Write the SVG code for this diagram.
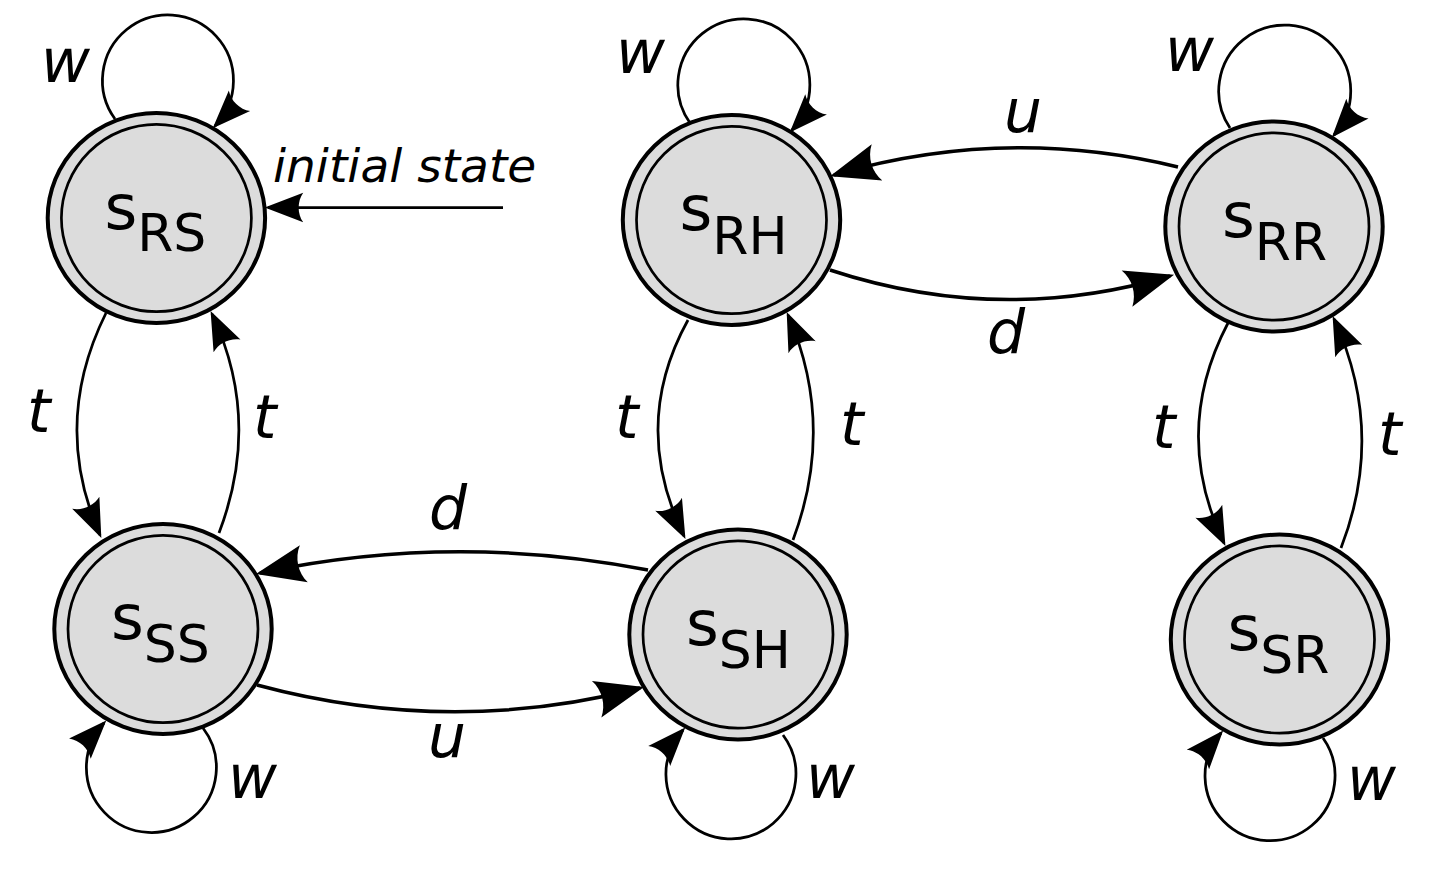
<svg xmlns="http://www.w3.org/2000/svg" width="1453" height="870" viewBox="0 0 1453 870">
<style>
.bg{fill:#ffffff}
.outer{fill:#dcdcdc;stroke:#000;stroke-width:4}
.inner{fill:#dcdcdc;stroke:#000;stroke-width:2.7}
.nl{font-family:"DejaVu Sans","Liberation Sans",sans-serif;font-size:63px;fill:#000}
.sub{font-size:52px}
.lbl{font-family:"DejaVu Sans","Liberation Sans",sans-serif;font-style:italic;font-size:60px;fill:#000}
.init{font-family:"DejaVu Sans","Liberation Sans",sans-serif;font-style:italic;font-size:47px;fill:#000}
.e{fill:none;stroke:#000;stroke-width:2.75;marker-end:url(#arr)}
.eb{fill:none;stroke:#000;stroke-width:3.5;marker-end:url(#arr)}
</style>
<defs>
<marker id="arr" viewBox="-16 -7 18 14" markerWidth="18" markerHeight="14" refX="-1.2" refY="0" orient="auto" markerUnits="strokeWidth" overflow="visible">
<path d="M0,0 L-14,-5.4 C-11.8,-2.2 -11.8,2.2 -14,5.4 Z" fill="#000"/>
</marker>
</defs>
<rect class="bg" x="0" y="0" width="1453" height="870"/>

<g id="node-RS">
<ellipse class="outer" cx="156.4" cy="218" rx="108.7" ry="105"/>
<ellipse class="inner" cx="156.4" cy="218" rx="95" ry="93.7"/>
<text class="nl" x="104.4" y="229">s<tspan class="sub" dy="22">RS</tspan></text>
</g>
<g id="node-SS">
<ellipse class="outer" cx="163" cy="629" rx="108.7" ry="105"/>
<ellipse class="inner" cx="163" cy="629" rx="95" ry="93.7"/>
<text class="nl" x="111" y="639">s<tspan class="sub" dy="23">SS</tspan></text>
</g>
<g id="node-RH">
<ellipse class="outer" cx="731.5" cy="220" rx="108.7" ry="105"/>
<ellipse class="inner" cx="731.5" cy="220" rx="95" ry="93.7"/>
<text class="nl" x="679.5" y="230">s<tspan class="sub" dy="24">RH</tspan></text>
</g>
<g id="node-SH">
<ellipse class="outer" cx="738" cy="634.5" rx="108.7" ry="105"/>
<ellipse class="inner" cx="738" cy="634.5" rx="95" ry="93.7"/>
<text class="nl" x="686" y="644.5">s<tspan class="sub" dy="23">SH</tspan></text>
</g>
<g id="node-RR">
<ellipse class="outer" cx="1274" cy="226.5" rx="108.7" ry="105"/>
<ellipse class="inner" cx="1274" cy="226.5" rx="95" ry="93.7"/>
<text class="nl" x="1222" y="236.5">s<tspan class="sub" dy="23">RR</tspan></text>
</g>
<g id="node-SR">
<ellipse class="outer" cx="1279.5" cy="639.5" rx="108.7" ry="105"/>
<ellipse class="inner" cx="1279.5" cy="639.5" rx="95" ry="93.7"/>
<text class="nl" x="1227.5" y="649.5">s<tspan class="sub" dy="23">SR</tspan></text>
</g>

<g id="connectors">
<path class="e" d="M503 207.5 L268 207.5"/>
<path class="e" d="M115 119 A65.5 65.5 0 1 1 215 126"/>
<path class="e" d="M690 123 A66 66 0 1 1 792 130"/>
<path class="e" d="M1230 128 A66 66 0 1 1 1334 135"/>
<path class="e" d="M203 728 A65 65 0 1 1 104 723"/>
<path class="e" d="M783 735 A65 65 0 1 1 683 730"/>
<path class="e" d="M1323 738 A65 65 0 1 1 1221 733"/>
<path class="e" d="M106 313 Q51 424 100 535"/>
<path class="e" d="M219 533 Q262 420 212 314"/>
<path class="e" d="M688 320 Q630 425 684 536"/>
<path class="e" d="M793 540 Q836 425 788 315"/>
<path class="e" d="M1228 323 Q1171 432 1224 543"/>
<path class="e" d="M1341 548 Q1386 432 1334 319"/>
<path class="eb" d="M648 570 Q452 532 260 573"/>
<path class="eb" d="M257 685 Q450 737 640 688"/>
<path class="eb" d="M1178 167 Q1005 125 834 175"/>
<path class="eb" d="M830 270 Q1000 326 1170 276"/>
</g>

<g id="labels">
<text class="init" x="273" y="182">initial state</text>
<text class="lbl" x="41" y="82">w</text>
<text class="lbl" x="616" y="73">w</text>
<text class="lbl" x="1165" y="71">w</text>
<text class="lbl" x="228" y="798">w</text>
<text class="lbl" x="806" y="798">w</text>
<text class="lbl" x="1347" y="800">w</text>
<text class="lbl" x="27" y="432">t</text>
<text class="lbl" x="253" y="438">t</text>
<text class="lbl" x="615" y="438">t</text>
<text class="lbl" x="840" y="445">t</text>
<text class="lbl" x="1152" y="448">t</text>
<text class="lbl" x="1378" y="455">t</text>
<text class="lbl" x="429" y="529">d</text>
<text class="lbl" x="428" y="757">u</text>
<text class="lbl" x="1004" y="132">u</text>
<text class="lbl" x="987" y="353">d</text>
</g>
</svg>
